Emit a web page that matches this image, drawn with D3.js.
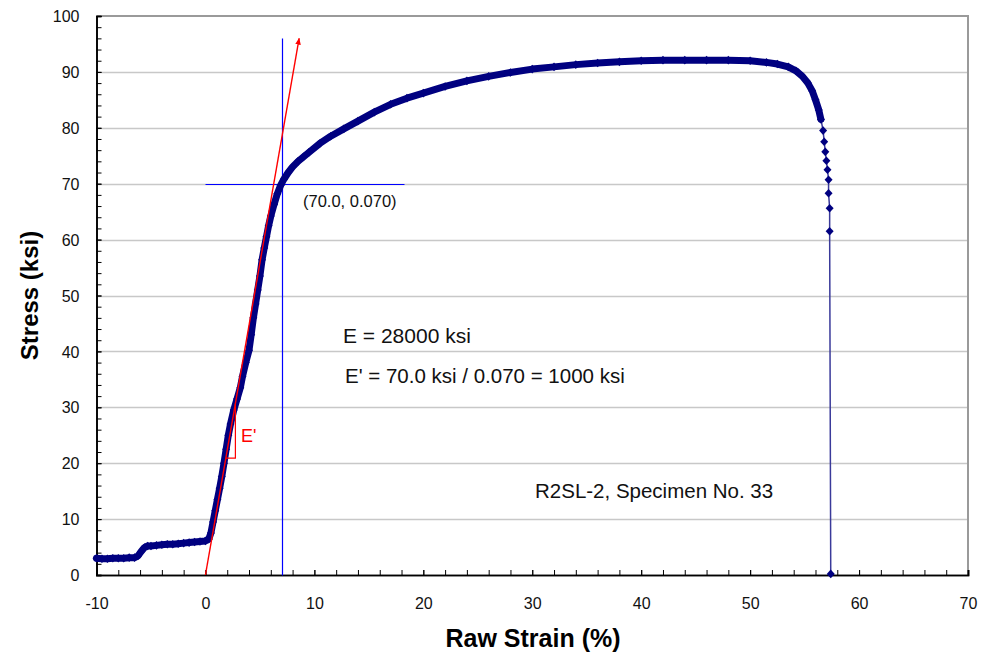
<!DOCTYPE html>
<html><head><meta charset="utf-8">
<script src="https://cdn.jsdelivr.net/npm/d3@7"></script>
<style>
html,body{margin:0;padding:0;background:#fff;}
svg{display:block;font-family:"Liberation Sans",Arial,sans-serif;}
</style></head>
<body><svg id="c" width="982" height="656"></svg>
<script>
// ---- data ----
const strain = [-10,-9.5,-9,-8.5,-8,-7.5,-7,-6.5,-6.2,-5.9,
  -5.6,-5.3,-5,-4.5,-4,-3.5,-3,-2.5,-2,-1.5,
  -1,-0.5,0,0.3,0.5,0.7,0.9,1.1,1.3,1.5,
  1.7,1.9,2.1,2.3,2.6,2.9,3.2,3.4,3.7,4.0,
  4.2,4.4,4.6,4.8,5.0,5.2,5.4,5.6,5.8,6.0,
  6.3,6.6,6.9,7.2,7.6,8.0,8.5,9,9.5,10.5,
  11.5,12.7,14,15.5,17,18.5,20,22,24,26,
  28,30,32,34,36,38,40,42,44,46,
  48,50,51.5,52.5,53.5,54.2,54.8,55.3,55.7,56.0,
  56.3,56.5,56.7,56.8,56.9,57.0,57.1,57.2,57.2,57.3,
  57.3,57.4];
const stress = [3.0,2.9,2.9,3.0,3.0,3.0,3.1,3.1,3.4,4.2,
  4.9,5.2,5.2,5.3,5.4,5.5,5.5,5.6,5.7,5.8,
  5.9,6.0,6.1,6.4,7.5,9.5,11.5,13.5,15.5,17.6,
  20,22.5,25,27,29.5,31.5,33.5,35.5,38,40.2,
  43,46,48.5,51,53.5,56.4,58.5,60.5,62.5,64.2,
  66.3,68.2,69.7,70.8,72,73,74,74.8,75.6,77.2,
  78.5,79.8,81.2,82.8,84.2,85.3,86.2,87.4,88.4,89.2,
  89.9,90.5,90.9,91.3,91.6,91.8,92.0,92.1,92.1,92.1,
  92.1,92.0,91.7,91.4,90.9,90.2,89.2,88.0,86.6,85.0,
  83.2,81.5,79.5,77.5,75.7,74.1,72.5,70.7,68.3,65.6,
  61.5,0.2];
const denseEnd = 91; // index up to which samples are densely packed
const xTicks = [-10,0,10,20,30,40,50,60,70];
const yTicks = [0,10,20,30,40,50,60,70,80,90,100];
// construction lines
const eLine = [[0,0],[8.6,96]];          // E' slope arrow
const yieldV = [[7.0,0],[7.0,96]];        // vertical at 7.0 %
const yieldH = [[0,70],[18.2,70]];        // horizontal at 70 ksi
const slopeTri = [[1.87,20.9],[2.75,20.9],[2.75,30.7]];
const labels = {
  point:"(70.0, 0.070)", e:"E = 28000 ksi", ep:"E' = 70.0 ksi / 0.070 = 1000 ksi",
  spec:"R2SL-2, Specimen No. 33", tri:"E'", xTitle:"Raw Strain (%)", yTitle:"Stress (ksi)"
};

// ---- drawing ----
const svg = d3.select("#c");
const L=96.5, R=968, T=16, B=575;
const x = d3.scaleLinear().domain([-10,70]).range([L,R]);
const y = d3.scaleLinear().domain([0,100]).range([B,T]);

// gridlines
svg.append("g").selectAll("line").data(yTicks.filter(v=>v>0&&v<100)).join("line")
  .attr("x1",L).attr("x2",R).attr("y1",d=>Math.round(y(d))+0.5).attr("y2",d=>Math.round(y(d))+0.5)
  .attr("stroke","#c8c8c8").attr("stroke-width",1.3);
// frame top/right
svg.append("path").attr("d",`M${L},${T}H${R}V${B}`).attr("fill","none")
  .attr("stroke","#9a9a9a").attr("stroke-width",2);

// axes
const fmt = d => String(d);
const minor = d3.range(-10,70.01,2);
const yMinor = d3.range(0,100.01,2);
const gx = svg.append("g").attr("transform",`translate(0,${B})`)
  .call(d3.axisBottom(x).tickValues(minor).tickSize(-5).tickFormat(""));
const gx2 = svg.append("g").attr("transform",`translate(0,${B})`)
  .call(d3.axisBottom(x).tickValues(xTicks).tickSize(-5).tickPadding(23).tickFormat(fmt));
const gy = svg.append("g").attr("transform",`translate(${L},0)`)
  .call(d3.axisLeft(y).tickValues(yMinor).tickSize(-5).tickFormat(""));
const gy2 = svg.append("g").attr("transform",`translate(${L},0)`)
  .call(d3.axisLeft(y).tickValues(yTicks).tickSize(-5).tickPadding(17).tickFormat(fmt));
[gx,gx2,gy,gy2].forEach(g=>{
  g.selectAll(".domain").attr("stroke","#000").attr("stroke-width",1.6);
  g.selectAll(".tick line").attr("stroke","#000").attr("stroke-width",1);
  g.selectAll("text").attr("font-size",16).attr("fill","#111").attr("font-family","Liberation Sans, Arial, sans-serif");
});
gy2.selectAll("text").attr("dy","0.35em");

// axis titles
svg.append("text").attr("x",533).attr("y",647).attr("text-anchor","middle")
  .attr("font-size",25).attr("font-weight","bold").text(labels.xTitle);
svg.append("text").attr("transform",`translate(38,${(T+B)/2}) rotate(-90)`).attr("text-anchor","middle")
  .attr("font-size",24).attr("font-weight","bold").text(labels.yTitle);

// construction lines
const line = d3.line().x(d=>x(d[0])).y(d=>y(d[1]));
const crisp = d3.line().x(d=>Math.round(x(d[0]))+0.5).y(d=>Math.round(y(d[1]))+0.5);
svg.append("defs").append("marker").attr("id","ah").attr("viewBox","0 0 10 10")
  .attr("refX",9).attr("refY",5).attr("markerWidth",7).attr("markerHeight",7)
  .attr("orient","auto").attr("markerUnits","userSpaceOnUse")
  .append("path").attr("d","M0,1L10,5L0,9Z").attr("fill","#ff0000");
svg.append("path").attr("d",crisp(yieldV)).attr("stroke","#0000ff").attr("stroke-width",1.2).attr("fill","none");
svg.append("path").attr("d",crisp(yieldH)).attr("stroke","#0000ff").attr("stroke-width",1.2).attr("fill","none");

// data
const pts = strain.map((s,i)=>[s,stress[i]]);
svg.append("path").attr("d",line(pts.slice(denseEnd))).attr("fill","none")
  .attr("stroke","#3a3a9a").attr("stroke-width",1.5);
svg.append("path").attr("d",line(pts.slice(0,denseEnd+1))).attr("fill","none")
  .attr("stroke","#000080").attr("stroke-width",7).attr("stroke-linejoin","round").attr("stroke-linecap","round");
svg.append("g").selectAll("path").data(pts).join("path")
  .attr("transform",d=>`translate(${x(d[0])},${y(d[1])})`)
  .attr("d","M0,-4.3L4,0L0,4.3L-4,0Z").attr("fill","#000080");

// red slope line + triangle
svg.append("path").attr("d",line(eLine)).attr("stroke","#ff0000").attr("stroke-width",1.4)
  .attr("fill","none").attr("marker-end","url(#ah)");
svg.append("path").attr("d",line(slopeTri)).attr("stroke","#ff0000").attr("stroke-width",1.2).attr("fill","none");

// annotations
svg.append("text").attr("x",303).attr("y",207).attr("font-size",16.5).attr("fill","#111").text(labels.point);
svg.append("text").attr("x",343).attr("y",343).attr("font-size",21).attr("fill","#111").text(labels.e);
svg.append("text").attr("x",345).attr("y",383).attr("font-size",20.5).attr("fill","#111").text(labels.ep);
svg.append("text").attr("x",535).attr("y",498).attr("font-size",20.5).attr("fill","#111").text(labels.spec);
svg.append("text").attr("x",241).attr("y",442).attr("font-size",18).attr("fill","#ff0000").text(labels.tri);
</script></body></html>
